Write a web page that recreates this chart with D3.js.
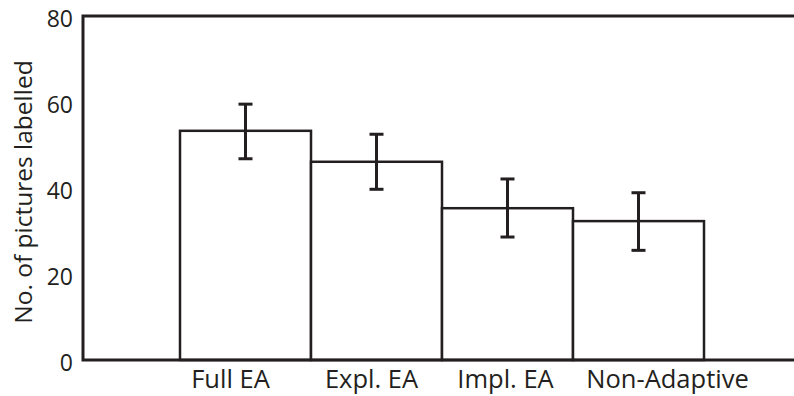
<!DOCTYPE html>
<html>
<head>
<meta charset="utf-8">
<script src="https://cdn.jsdelivr.net/npm/d3@7"></script>
<style>
  body { margin: 0; background: #fff; }
  text { font-family: "Open Sans", sans-serif; fill: #231f20; }
</style>
</head>
<body>
<script>
// chart values
var categories = [ 'Full EA', 'Expl. EA', 'Impl. EA', 'Non-Adaptive' ];
var means = [ 53.3, 46.1, 35.3, 32.3 ];
var errUpper = [ 59.5, 52.5, 42.1, 38.9 ];
var errLower = [ 46.8, 39.7, 28.6, 25.5 ];
var yTicks = [ 0, 20, 40, 60, 80 ];

var W = 794, H = 396,
    margin = { top: 16, right: 0, bottom: 36, left: 83 },
    w = W - margin.left - margin.right,
    h = H - margin.top - margin.bottom,
    ink = '#231f20';

// the category labels in the original are not quite centred under their bars
var labelNudge = [ -15, -5, -2, 29 ];

var svg = d3.select( 'body' ).append( 'svg' )
            .attr( 'width', W )
            .attr( 'height', H );

var g = svg.append( 'g' )
           .attr( 'transform', 'translate(' + margin.left + ',' + margin.top + ')' );

// bars sit side by side, leaving a gap on both ends of the frame
var x = d3.scaleBand().domain( categories ).range( [ 97, 621 ] ).padding( 0 );
var y = d3.scaleLinear().domain( [ 0, 80 ] ).range( [ h, 0 ] );

// bars
g.selectAll( 'rect.bar' )
  .data( means )
  .enter()
  .append( 'rect' )
  .attr( 'class', 'bar' )
  .attr( 'x', function( d, i ) { return x( categories[i] ); } )
  .attr( 'y', function( d ) { return y( d ); } )
  .attr( 'width', x.bandwidth() )
  .attr( 'height', function( d ) { return h - y( d ); } )
  .attr( 'fill', '#fff' )
  .attr( 'stroke', ink )
  .attr( 'stroke-width', 2.5 );

// error bars
var cap = 7;
var eb = g.selectAll( 'g.err' )
          .data( means )
          .enter()
          .append( 'g' )
          .attr( 'class', 'err' )
          .attr( 'transform', function( d, i ) {
            return 'translate(' + ( x( categories[i] ) + x.bandwidth() / 2 ) + ',0)';
          })
          .attr( 'stroke', ink )
          .attr( 'stroke-width', 3 );

eb.append( 'line' )
  .attr( 'y1', function( d, i ) { return y( errUpper[i] ); } )
  .attr( 'y2', function( d, i ) { return y( errLower[i] ); } );
eb.append( 'line' )
  .attr( 'x1', -cap ).attr( 'x2', cap )
  .attr( 'y1', function( d, i ) { return y( errUpper[i] ); } )
  .attr( 'y2', function( d, i ) { return y( errUpper[i] ); } );
eb.append( 'line' )
  .attr( 'x1', -cap ).attr( 'x2', cap )
  .attr( 'y1', function( d, i ) { return y( errLower[i] ); } )
  .attr( 'y2', function( d, i ) { return y( errLower[i] ); } );

// frame: left, top and bottom lines, no right side
g.append( 'path' )
  .attr( 'd', 'M' + w + ',0H0V' + h + 'H' + w )
  .attr( 'fill', 'none' )
  .attr( 'stroke', ink )
  .attr( 'stroke-width', 3 );

// y axis labels (no tick marks)
var yAxis = g.append( 'g' )
             .call( d3.axisLeft( y ).tickValues( yTicks ).tickSize( 0 ).tickPadding( 10 ) );
yAxis.select( '.domain' ).remove();
yAxis.selectAll( 'text' )
     .attr( 'dy', '0.45em' )
     .style( 'font-size', '23px' )
     .style( 'font-family', '"Open Sans", sans-serif' )
     .attr( 'fill', ink );

// x axis labels
var xAxis = g.append( 'g' )
             .attr( 'transform', 'translate(0,' + h + ')' )
             .call( d3.axisBottom( x ).tickSize( 0 ).tickPadding( 10 ) );
xAxis.select( '.domain' ).remove();
xAxis.selectAll( 'text' )
     .attr( 'dy', '0' )
     .attr( 'y', 28 )
     .attr( 'x', function( d, i ) { return labelNudge[i]; } )
     .style( 'font-size', '25.5px' )
     .style( 'font-family', '"Open Sans", sans-serif' )
     .attr( 'fill', ink );

// y title
svg.append( 'text' )
   .attr( 'transform', 'translate(32,' + 192 + ') rotate(-90)' )
   .attr( 'text-anchor', 'middle' )
   .style( 'font-size', '24.5px' )
   .text( 'No. of pictures labelled' );
</script>
</body>
</html>
